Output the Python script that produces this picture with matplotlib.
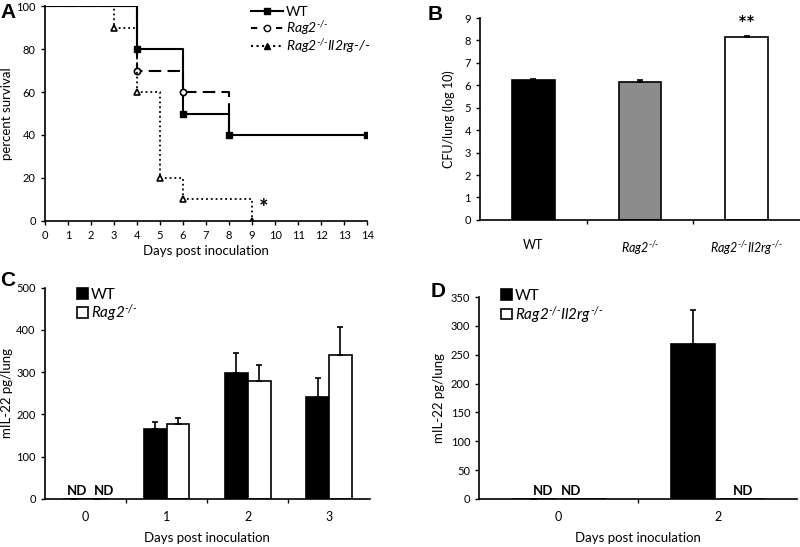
import matplotlib.pyplot as plt
import numpy as np

plt.rcParams['font.family'] = ['Lato', 'DejaVu Sans']
plt.rcParams['mathtext.fontset'] = 'custom'
plt.rcParams['mathtext.rm'] = 'Lato:italic'
plt.rcParams['mathtext.it'] = 'Lato:italic'
plt.rcParams['font.size'] = 8

# Panel A: survival
wt_days = [0, 4, 6, 8, 14]
wt_surv = [100, 80, 50, 40, 40]
rag_days = [0, 4, 6, 8]
rag_surv = [100, 70, 60, 40]
dko_days = [0, 3, 4, 5, 6, 9]
dko_surv = [100, 90, 60, 20, 10, 0]

# Panel B: CFU
b_groups = ["WT", r"$\it{Rag2}^{\text{-/-}}$", r"$\it{Rag2}^{\text{-/-}}\it{Il2rg}^{\text{-/-}}$"]
b_vals = [6.25, 6.17, 8.15]
b_err = [0.05, 0.08, 0.07]
b_colors = ["black", "#8c8c8c", "white"]

# Panel C: IL-22
c_days = ["0", "1", "2", "3"]
c_wt = [0, 165, 297, 242]
c_wt_err = [0, 18, 49, 44]
c_rag = [0, 177, 280, 340]
c_rag_err = [0, 14, 38, 67]

# Panel D
d_days = ["0", "2"]
d_wt = [0, 268]
d_wt_err = [0, 60]
d_dko = [0, 0]

fig = plt.figure(figsize=(8, 5.47), dpi=100)
ekw = dict(elinewidth=1.2, capthick=1.2)


def style(ax):
    ax.spines['top'].set_visible(False)
    ax.spines['right'].set_visible(False)
    ax.spines['left'].set_linewidth(1.2)
    ax.spines['bottom'].set_linewidth(1.2)
    ax.tick_params(direction='out', length=3, width=1, labelsize=8)


def cat_ticks(ax, n, labels, pad):
    ax.set_xticks(np.arange(n))
    ax.set_xticklabels(labels)
    ax.set_xticks(np.arange(n - 1) + 0.5, minor=True)
    ax.tick_params(axis='x', which='major', length=0, pad=pad, labelsize=9)
    ax.tick_params(axis='x', which='minor', length=3, width=1, direction='out')


# ---- A ----
axA = fig.add_axes([0.056, 0.596, 0.403, 0.393])
style(axA)
axA.step(wt_days, wt_surv, where='post', color='black', lw=1.5)
axA.plot(wt_days[1:], wt_surv[1:], 's', color='black', ms=5)
axA.step(rag_days, rag_surv, where='post', color='black', lw=1.5, ls=(0, (6, 3)))
axA.plot(rag_days[1:3], rag_surv[1:3], 'o', mfc='white', mec='black', ms=4.5, mew=1.2)
axA.step(dko_days, dko_surv, where='post', color='black', lw=1.3, ls=':')
axA.plot(dko_days[1:], dko_surv[1:], '^', mfc='white', mec='black', ms=5, mew=1.2)
axA.plot([], [], '-s', color='black', ms=5, label='WT')
axA.plot([], [], ls=(0, (3, 3)), marker='o', color='black', mfc='white', ms=4.5,
         label=r'$\it{Rag2}^{\text{-/-}}$')
axA.plot([], [], ls=':', marker='^', color='black', ms=5,
         label=r'$\it{Rag2}^{\text{-/-}}\it{Il2rg}\text{-/-}$')
axA.legend(loc='upper left', bbox_to_anchor=(0.64, 1.0), frameon=False, fontsize=10,
           handlelength=2.3, handletextpad=0.2, labelspacing=0.05,
           borderpad=0, borderaxespad=0)
axA.text(9.5, 1, '*', fontsize=16, fontweight='bold', ha='center', va='bottom')
axA.set_xlim(0, 14)
axA.set_ylim(0, 100)
axA.set_xticks(range(15))
axA.set_yticks(range(0, 101, 20))
axA.set_xlabel('Days post inoculation', fontsize=9.5, labelpad=3)
axA.set_ylabel('percent survival', fontsize=9.5, labelpad=2)

# ---- B ----
axB = fig.add_axes([0.6, 0.598, 0.4, 0.369])
style(axB)
xb = np.arange(len(b_vals))
axB.bar(xb, b_vals, width=0.4, color=b_colors, edgecolor='black', linewidth=1.2,
        yerr=[[0] * 3, b_err], capsize=2.5, error_kw=ekw)
axB.text(2, 8.25, '**', fontsize=15, fontweight='bold', ha='center', va='bottom')
axB.set_xlim(-0.5, 2.5)
axB.set_ylim(0, 9)
axB.set_yticks(range(10))
cat_ticks(axB, 3, b_groups, 14)
axB.set_ylabel('CFU/lung (log 10)', fontsize=9, labelpad=7)

# ---- C ----
axC = fig.add_axes([0.056, 0.088, 0.406, 0.386])
style(axC)
xc = np.arange(len(c_days))
w = 0.28
axC.bar(xc - w / 2, c_wt, width=w, color='black', edgecolor='black', linewidth=1.2,
        yerr=[[0] * 4, c_wt_err], capsize=2.5, error_kw=ekw, label='WT')
axC.bar(xc + w / 2, c_rag, width=w, color='white', edgecolor='black', linewidth=1.2,
        yerr=[[0] * 4, c_rag_err], capsize=2.5, error_kw=ekw,
        label=r'$\it{Rag2}^{\text{-/-}}$')
for x0 in [-0.1, 0.23]:
    axC.text(x0, 5, 'ND', fontsize=9.5, fontweight='bold', ha='center', va='bottom')
axC.set_xlim(-0.5, 3.5)
axC.set_ylim(0, 500)
axC.set_yticks(range(0, 501, 100))
cat_ticks(axC, 4, c_days, 9)
axC.set_xlabel('Days post inoculation', fontsize=9.5, labelpad=6)
axC.set_ylabel('mIL-22 pg/lung', fontsize=9.5, labelpad=2)
axC.legend(loc='upper left', bbox_to_anchor=(0.1, 1.0), frameon=False, fontsize=11,
           handlelength=0.7, handleheight=0.7, handletextpad=0.2, labelspacing=0.05,
           borderpad=0, borderaxespad=0)

# ---- D ----
axD = fig.add_axes([0.599, 0.088, 0.3975, 0.369])
style(axD)
xd = np.arange(len(d_days))
axD.bar(xd - 0.155, d_wt, width=w, color='black', edgecolor='black', linewidth=1.2,
        yerr=[[0] * 2, d_wt_err], capsize=2.5, error_kw=ekw, label='WT')
axD.bar(xd + 0.155, d_dko, width=w, color='white', edgecolor='black', linewidth=1.2,
        label=r'$\it{Rag2}^{\text{-/-}}\it{Il2rg}^{\text{-/-}}$')
for x0 in [-0.1, 0.08, 1.16]:
    axD.text(x0, 4, 'ND', fontsize=9.5, fontweight='bold', ha='center', va='bottom')
axD.set_xlim(-0.5, 1.5)
axD.set_ylim(0, 350)
axD.set_yticks(range(0, 351, 50))
cat_ticks(axD, 2, d_days, 9)
axD.set_xlabel('Days post inoculation', fontsize=9.5, labelpad=6)
axD.set_ylabel('mIL-22 pg/lung', fontsize=9.5, labelpad=4)
axD.legend(loc='upper left', bbox_to_anchor=(0.07, 1.04), frameon=False, fontsize=11,
           handlelength=0.7, handleheight=0.7, handletextpad=0.2, labelspacing=0.05,
           borderpad=0, borderaxespad=0)

for lab, x, y in [('A', 0.0, 0.995), ('B', 0.535, 0.99), ('C', 0.0, 0.505), ('D', 0.538, 0.485)]:
    fig.text(x, y, lab, fontsize=15, fontweight='bold', ha='left', va='top',
             family='Liberation Sans')

fig.savefig('out.png', dpi=100)
